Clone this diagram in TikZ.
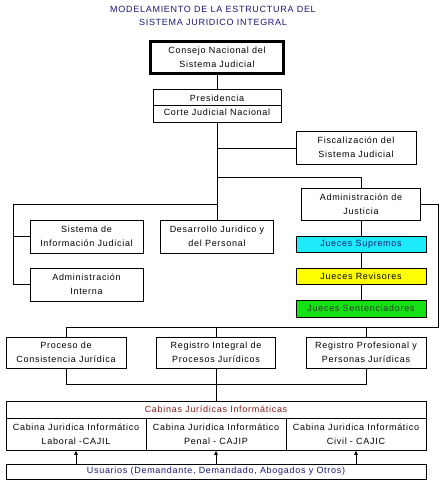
\documentclass[tikz,border=0pt]{standalone}
\usepackage{fontspec}
\setmainfont{Liberation Sans}[LetterSpace=8]
\usetikzlibrary{arrows.meta}
\definecolor{navy}{RGB}{25,25,120}
\definecolor{darkred}{RGB}{140,25,25}
\definecolor{cyanbox}{RGB}{30,235,250}
\definecolor{yellowbox}{RGB}{255,255,0}
\definecolor{greenbox}{RGB}{20,225,20}
\begin{document}
\begin{tikzpicture}[x=1pt,y=-1pt,
  font=\fontsize{9}{14}\selectfont,
  box/.style={draw, line width=0.8pt, fill=white, inner sep=0pt, align=center},
  ln/.style={line width=0.8pt},
  arr/.style={line width=0.8pt, -{Latex[length=4.5pt,width=4pt]}}]
\useasboundingbox (0,0) rectangle (443,480);

\node[text=navy, align=center, font=\fontsize{9}{13}\selectfont] (title) at (213,15.5)
  {MODELAMIENTO DE LA ESTRUCTURA DEL\\SISTEMA JURIDICO INTEGRAL};

\node[box, line width=2.6pt, minimum width=133pt, minimum height=32pt] (cons) at (217,57.5)
  {Consejo Nacional del\\Sistema Judicial};
\node[box, minimum width=128pt, minimum height=33pt] (pres) at (217,105.5)
  {Presidencia\\Corte Judicial Nacional};
\draw[ln] (pres.west) -- (pres.east);

\node[box, minimum width=120pt, minimum height=33pt] (fisc) at (356,147.5)
  {Fiscalización del\\Sistema Judicial};
\node[box, minimum width=119pt, minimum height=32pt] (admj) at (361,204)
  {Administración de\\Justicia};
\node[box, minimum width=113pt, minimum height=33pt] (sis) at (86.5,236.5)
  {Sistema de\\Información Judicial};
\node[box, minimum width=113pt, minimum height=33pt] (adi) at (86.5,284.5)
  {Administración\\Interna};
\node[box, minimum width=113pt, minimum height=33pt] (des) at (217,236.5)
  {Desarrollo Juridico y\\del Personal};

\node[box, fill=cyanbox, text=navy, minimum width=130pt, minimum height=16pt] (jsup) at (361,244) {Jueces Supremos};
\node[box, fill=yellowbox, minimum width=130pt, minimum height=16pt] (jrev) at (361,276) {Jueces Revisores};
\node[box, fill=greenbox, text=black!80, minimum width=130pt, minimum height=17pt] (jsen) at (361,308.5) {Jueces Sentenciadores};

\node[box, minimum width=120pt, minimum height=31pt] (proc) at (66,352.5)
  {Proceso de\\Consistencia Jurídica};
\node[box, minimum width=119pt, minimum height=31pt] (regi) at (216,352.5)
  {Registro Integral de\\Procesos Jurídicos};
\node[box, minimum width=120pt, minimum height=31pt] (regp) at (366,352.5)
  {Registro Profesional y\\Personas Jurídicas};

\node[box, text=darkred, minimum width=420pt, minimum height=17pt] (cabt) at (216,409.5)
  {Cabinas Jurídicas Informáticas};
\node[box, minimum width=140pt, minimum height=32pt] (c1) at (76,434)
  {Cabina Juridica Informático\\Laboral -CAJIL};
\node[box, minimum width=140pt, minimum height=32pt] (c2) at (216,434)
  {Cabina Juridica Informático\\Penal - CAJIP};
\node[box, minimum width=140pt, minimum height=32pt] (c3) at (356,434)
  {Cabina Juridica Informático\\Civil - CAJIC};
\draw[line width=1.8pt] (c1.north east) -- (c1.south east);
\draw[line width=1.8pt] (c2.north east) -- (c2.south east);

\node[box, text=navy, minimum width=420pt, minimum height=15pt] (usu) at (216,471.5)
  {Usuarios (Demandante, Demandado, Abogados y Otros)};

% connectors
\draw[ln] (cons.south) -- (pres.north);
\draw[ln] (pres.south) -- (des.north);
\coordinate (tf) at (217,148);
\draw[ln] (tf) -- (tf -| fisc.west);
\coordinate (ta) at (217,177);
\draw[ln] (ta) -| (admj.north);
\coordinate (tl) at (217,204);
\coordinate (lx) at (13,204);
\draw[ln] (tl) -- (lx) |- (adi.west);
\draw[ln] (sis.west) -- (sis.west -| lx);
\draw[ln] (admj.south) -- (jsup.north);
\draw[ln] (jsup.south) -- (jrev.north);
\draw[ln] (jrev.south) -- (jsen.north);
\coordinate (rx) at (438,204);
\coordinate (hy) at (438,327);
\draw[ln] (admj.east) -- (rx) -- (hy) -| (proc.north);
\draw[ln] (regi.north) -- (regi.north |- hy);
\draw[ln] (regp.north) -- (regp.north |- hy);
\coordinate (by) at (66,384);
\draw[ln] (proc.south) -- (by) -| (regp.south);
\draw[ln] (regi.south) -- (cabt.north);
\draw[arr] (usu.north -| c1.south) -- (c1.south);
\draw[arr] (usu.north -| c2.south) -- (c2.south);
\draw[arr] (usu.north -| c3.south) -- (c3.south);
\end{tikzpicture}
\end{document}
